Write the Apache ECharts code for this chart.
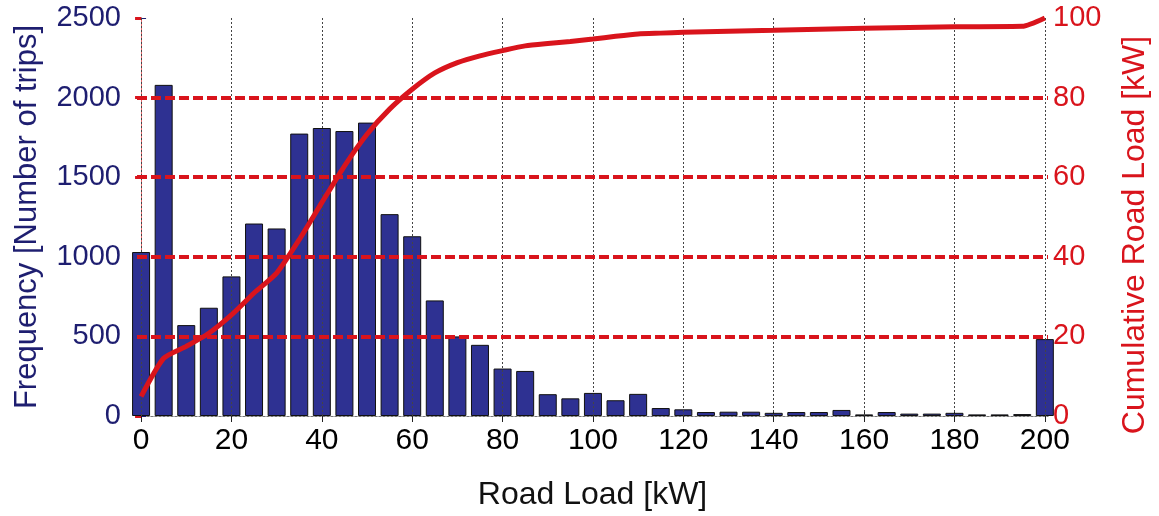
<!DOCTYPE html>
<html>
<head>
<meta charset="utf-8">
<script src="https://cdn.jsdelivr.net/npm/echarts@6/dist/echarts.min.js"></script>
<style>
  html, body { margin: 0; padding: 0; background: #fff; }
</style>
</head>
<body>
<div id="chart" style="width: 1159px; height: 516px"></div>
<script>
// road load bins (kW) and trip counts
var loadBins = [0, 5, 10, 15, 20, 25, 30, 35, 40, 45, 50, 55, 60, 65, 70, 75, 80, 85, 90, 95, 100,
  105, 110, 115, 120, 125, 130, 135, 140, 145, 150, 155, 160, 165, 170, 175, 180, 185, 190, 195, 200];
var tripCounts = [1030, 2080, 571, 680, 877, 1209, 1178, 1774, 1809, 1790, 1843, 1268, 1129, 726, 500, 447, 298, 283, 137, 111, 145,
  99, 139, 50, 42, 25, 27, 27, 20, 25, 25, 38, 10, 25, 15, 15, 20, 10, 10, 12, 483];

// cumulative curve (%)
var cumX = [0, 5, 10, 15, 20, 25, 30, 35, 40, 45, 50, 55, 60, 65, 70, 75, 80, 85, 90, 95, 100, 105, 110, 115, 120, 130, 140, 160, 180, 195, 200];
var cumY = [4.9, 14.5, 17.5, 20.8, 25.4, 30.9, 35.9, 44.3, 53.6, 62.8, 70.8, 77.1, 82.1, 86.2, 88.8, 90.5, 91.8, 93.0, 93.6, 94.1, 94.7, 95.4, 96.0, 96.2, 96.4, 96.7, 96.9, 97.4, 97.8, 97.9, 100];

var xTicks = [0, 20, 40, 60, 80, 100, 120, 140, 160, 180, 200];
var rightGridTicks = [20, 40, 60, 80];

var navy = '#1e1e70';
var red = '#d9141c';
var font = '"Liberation Sans", Arial, sans-serif';

var myChart = echarts.init(document.getElementById('chart'));
var option = {
  animation: false,
  textStyle: { fontFamily: font },
  grid: { left: 137, right: 109, top: 18, bottom: 100 },
  xAxis: [
    {
      type: 'value',
      min: -0.9,
      max: 200.7,
      name: 'Road Load [kW]',
      nameLocation: 'middle',
      nameGap: 63,
      nameTextStyle: { fontSize: 32, color: '#111', fontFamily: font },
      axisLine: { show: true, lineStyle: { color: '#555', width: 1 } },
      axisTick: { show: true, inside: true, length: 6, customValues: xTicks, lineStyle: { color: '#222' } },
      axisLabel: { customValues: xTicks, fontSize: 30, color: '#000', margin: 10, fontFamily: font },
      splitLine: { show: false }
    },
    {
      type: 'value',
      position: 'top',
      min: -0.9,
      max: 200.7,
      axisLine: { show: true, lineStyle: { color: '#aaa', type: [2, 2], width: 1 } },
      axisTick: { show: true, inside: true, length: 6, customValues: xTicks, lineStyle: { color: '#222' } },
      axisLabel: { show: false, customValues: xTicks },
      splitLine: { show: false }
    }
  ],
  yAxis: [
    {
      type: 'value',
      min: 0,
      max: 2500,
      interval: 500,
      name: 'Frequency [Number of trips]',
      nameLocation: 'middle',
      nameGap: 94,
      nameTextStyle: { fontSize: 31, color: navy, fontFamily: font },
      axisLine: { show: true, lineStyle: { color: navy, width: 1 } },
      axisTick: { show: true, inside: true, length: 5, lineStyle: { color: navy } },
      axisLabel: { fontSize: 29, color: navy, margin: 16, fontFamily: font, formatter: function (v) { return String(v); } },
      splitLine: { show: false }
    },
    {
      type: 'value',
      min: 0,
      max: 100,
      interval: 20,
      position: 'right',
      name: 'Cumulative Road Load [kW]',
      nameLocation: 'middle',
      nameGap: 71,
      nameRotate: 90,
      nameTextStyle: { fontSize: 32, color: red, fontFamily: font, padding: [0, 36, 0, 0] },
      axisLine: { show: true, lineStyle: { color: '#e56a6e', width: 1 } },
      axisTick: { show: true, inside: true, length: 6, lineStyle: { color: red, width: 3 } },
      axisLabel: { fontSize: 29, color: red, margin: 5, fontFamily: font },
      splitLine: { show: false }
    }
  ],
  series: [
    {
      name: 'Frequency',
      type: 'bar',
      xAxisIndex: 0,
      yAxisIndex: 0,
      barWidth: 18,
      data: loadBins.map(function (x, i) { return [x, tripCounts[i]]; }),
      itemStyle: { color: '#2e3192', borderColor: '#111', borderWidth: 1 },
      markLine: {
        silent: true,
        symbol: 'none',
        label: { show: false },
        lineStyle: { color: '#444', type: [2, 2], width: 1 },
        data: xTicks.map(function (v) { return { xAxis: v }; })
      }
    },
    {
      name: 'Cumulative',
      type: 'line',
      xAxisIndex: 0,
      yAxisIndex: 1,
      showSymbol: false,
      symbol: 'none',
      smooth: 0.2,
      data: cumX.map(function (x, i) { return [x, cumY[i]]; }),
      lineStyle: { color: red, width: 5 },
      z: 5,
      markLine: {
        silent: true,
        symbol: 'none',
        label: { show: false },
        lineStyle: { color: red, type: [10, 4], width: 4 },
        data: rightGridTicks.map(function (v) { return { yAxis: v }; })
      }
    }
  ]
};
myChart.setOption(option);
</script>
</body>
</html>
